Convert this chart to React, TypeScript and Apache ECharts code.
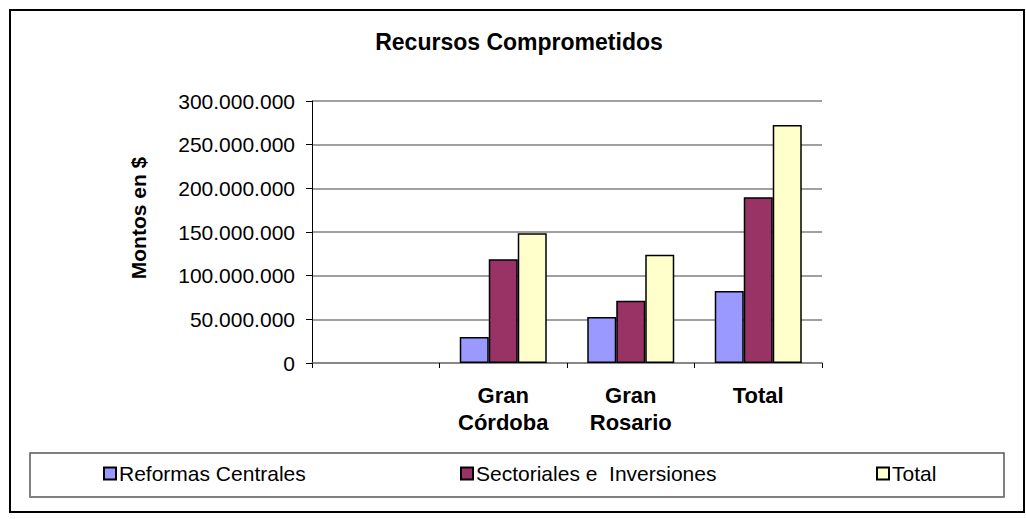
import React, { useEffect, useRef } from "react";
import * as echarts from "echarts";

const categories = ["", "Gran\nCórdoba", "Gran\nRosario", "Total"];
const reformasCentrales = [null, 29700000, 52600000, 82300000];
const sectorialesInversiones = [null, 118900000, 71300000, 189800000];
const totalSerie = [null, 148700000, 123900000, 272500000];
const seriesNames = ["Reformas Centrales", "Sectoriales e  Inversiones", "Total"];
const seriesColors = ["#9999FF", "#993366", "#FFFFCC"];

const FONT = "'Liberation Sans', Arial, sans-serif";

function fmt(v: number): string {
  return String(Math.round(v)).replace(/\B(?=(\d{3})+(?!\d))/g, ".");
}

export default function App() {
  const ref = useRef<HTMLDivElement>(null);
  useEffect(() => {
    if (!ref.current) return;
    const chart = echarts.init(ref.current, undefined, { renderer: "svg" });
    const values = [reformasCentrales, sectorialesInversiones, totalSerie];
    const legendLefts = [103, 460, 876];
    chart.setOption({
      animation: false,
      backgroundColor: "#fff",
      textStyle: { fontFamily: FONT },
      graphic: [
        {
          type: "rect",
          shape: { x: 10, y: 10, width: 1014, height: 502 },
          style: { fill: "none", stroke: "#000", lineWidth: 2 },
          z: -1,
        },
        {
          type: "rect",
          shape: { x: 30, y: 453, width: 974, height: 44 },
          style: { fill: "none", stroke: "#555", lineWidth: 1.5 },
          z: -1,
        },
        {
          type: "line",
          shape: { x1: 30, y1: 497, x2: 1004, y2: 497 },
          style: { stroke: "#808080", lineWidth: 2 },
          z: -1,
        },
        {
          type: "text",
          x: 519,
          y: 42,
          style: {
            text: "Recursos Comprometidos",
            textAlign: "center",
            textVerticalAlign: "middle",
            font: `bold 23px ${FONT}`,
            fill: "#000",
          },
        },
        {
          type: "text",
          x: 138,
          y: 218,
          rotation: Math.PI / 2,
          style: {
            text: "Montos en $",
            textAlign: "center",
            textVerticalAlign: "middle",
            font: `bold 21px ${FONT}`,
            fill: "#000",
          },
        },
      ],
      legend: seriesNames.map((n, i) => ({
        data: [n],
        left: legendLefts[i],
        top: 463,
        icon: "rect",
        itemWidth: 12,
        itemHeight: 12,
        itemGap: 5,
        textStyle: { fontFamily: FONT, fontSize: 21, color: "#000", padding: [0, 0, 0, -2] },
        selectedMode: false,
        padding: 0,
      })),
      grid: { left: 312, right: 204, top: 101, bottom: 156, containLabel: false },
      xAxis: {
        type: "category",
        data: categories,
        axisLine: { lineStyle: { color: "#808080", width: 1.5 } },
        axisTick: { show: true, length: 5, lineStyle: { color: "#000" } },
        axisLabel: {
          color: "#000",
          fontFamily: FONT,
          fontSize: 22,
          fontWeight: "bold",
          lineHeight: 27,
          margin: 19,
          verticalAlign: "top",
        },
      },
      yAxis: {
        type: "value",
        min: 0,
        max: 300000000,
        interval: 50000000,
        axisLine: { show: true, lineStyle: { color: "#000", width: 1 } },
        axisTick: { show: true, length: 6, lineStyle: { color: "#000" } },
        axisLabel: {
          color: "#000",
          fontFamily: FONT,
          fontSize: 21,
          margin: 17,
          formatter: (v: number) => fmt(v),
        },
        splitLine: { show: true, lineStyle: { color: "#808080", width: 1.5 } },
      },
      series: seriesNames.map((n, i) => ({
        name: n,
        type: "bar",
        data: values[i],
        barWidth: 29,
        barGap: "0%",
        itemStyle: { color: seriesColors[i], borderColor: "#000", borderWidth: 1.5 },
      })),
    });
    return () => chart.dispose();
  }, []);
  return (
    <div
      ref={ref}
      style={{ position: "absolute", left: 0, top: 0, width: 1026, height: 519 }}
    />
  );
}
